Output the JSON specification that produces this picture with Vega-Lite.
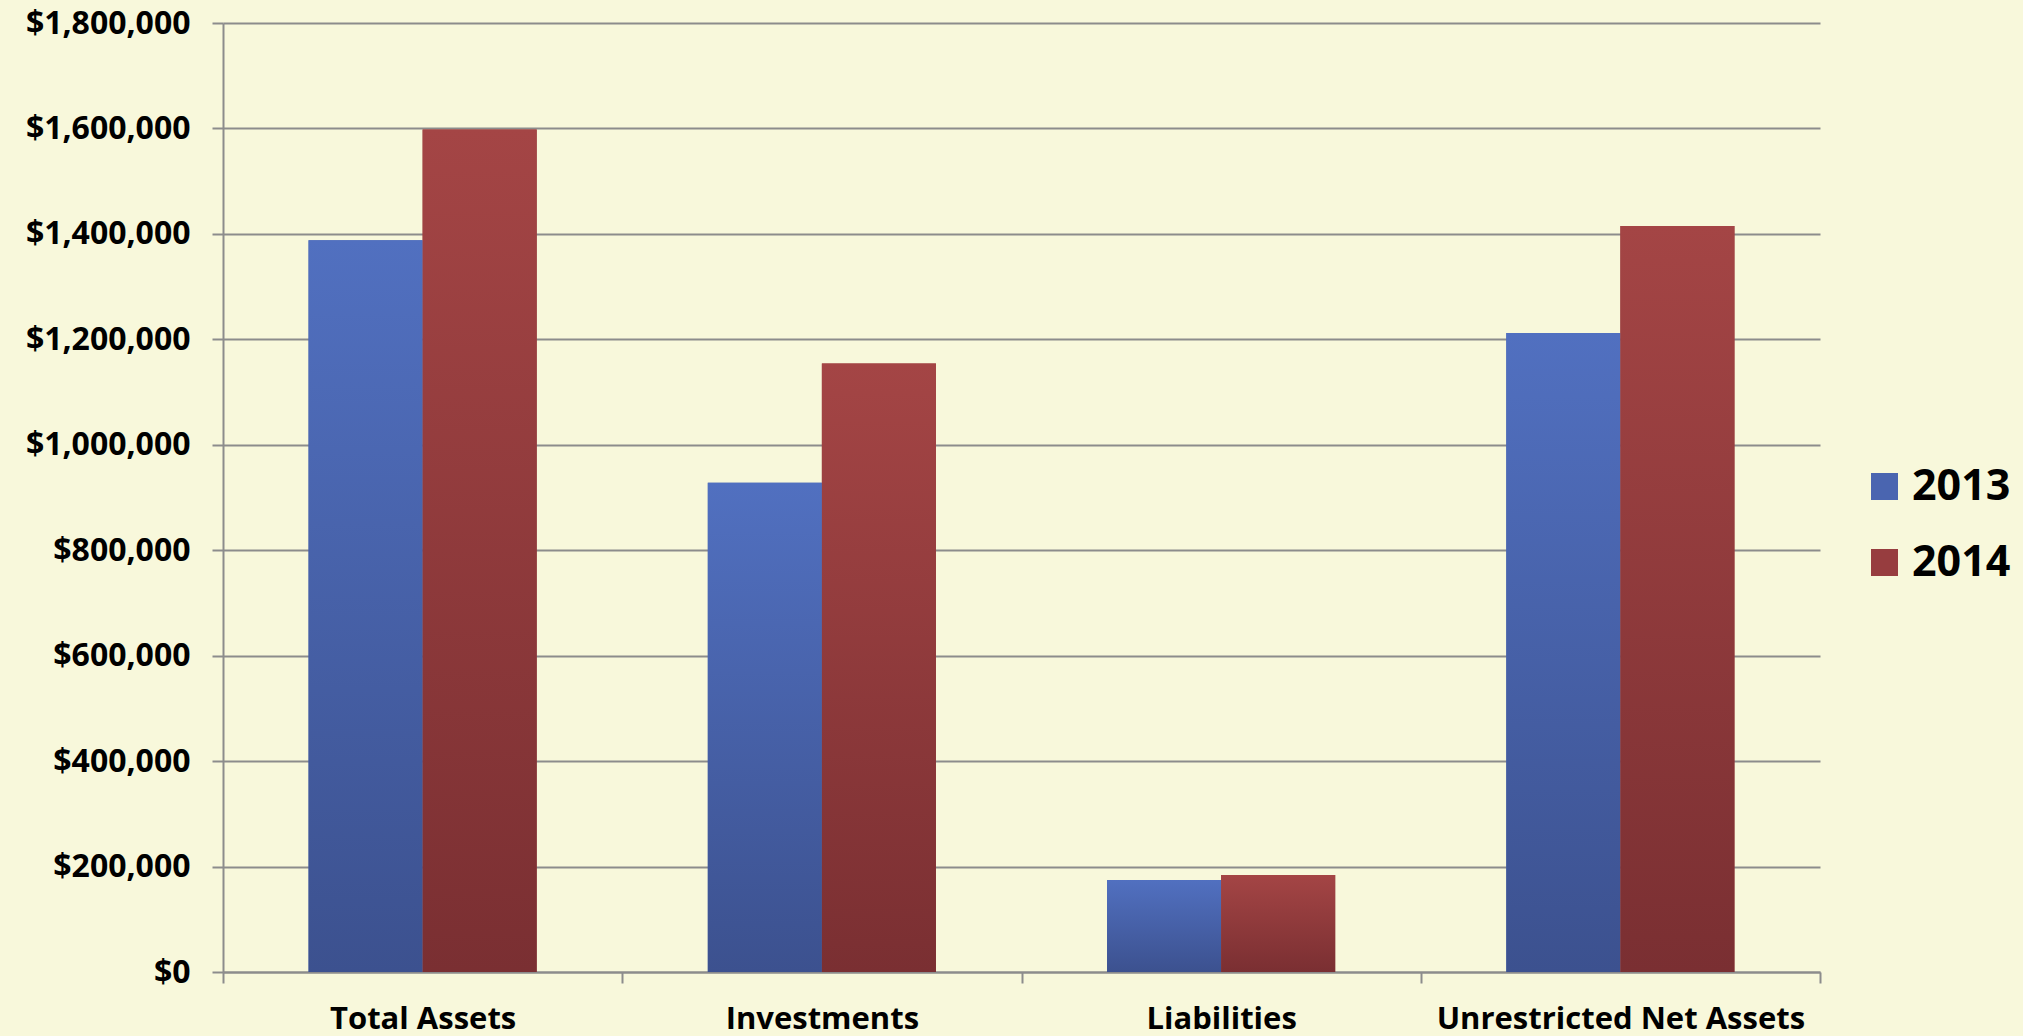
{
  "$schema": "https://vega.github.io/schema/vega-lite/v6.json",
  "width": 1597,
  "height": 949,
  "autosize": {"type": "none"},
  "padding": {"left": 223, "top": 23, "right": 203, "bottom": 64},
  "background": "#F8F8DB",
  "config": {"view": {"stroke": null}, "font": "Open Sans"},
  "data": {
    "values": [
      {"category": "Total Assets", "year": "2013", "value": 1388000},
      {"category": "Total Assets", "year": "2014", "value": 1598000},
      {"category": "Investments", "year": "2013", "value": 928000},
      {"category": "Investments", "year": "2014", "value": 1154000},
      {"category": "Liabilities", "year": "2013", "value": 174500},
      {"category": "Liabilities", "year": "2014", "value": 184000},
      {"category": "Unrestricted Net Assets", "year": "2013", "value": 1212000},
      {"category": "Unrestricted Net Assets", "year": "2014", "value": 1415000}
    ]
  },
  "encoding": {
    "x": {
      "field": "category",
      "type": "nominal",
      "sort": ["Total Assets", "Investments", "Liabilities", "Unrestricted Net Assets"],
      "scale": {"paddingInner": 0, "paddingOuter": 0},
      "axis": {
        "title": null,
        "labelAngle": 0,
        "labelFont": "Open Sans",
        "labelFontWeight": "bold",
        "labelFontSize": 31,
        "labelColor": "#000000",
        "labelPadding": 21,
        "labelLimit": 0,
        "tickBand": "extent",
        "tickColor": "#8C8C8C",
        "tickWidth": 2,
        "tickSize": 11,
        "domainColor": "#8C8C8C",
        "domainWidth": 2,
        "grid": false
      }
    },
    "xOffset": {
      "field": "year",
      "type": "nominal",
      "scale": {"paddingInner": 0, "paddingOuter": 0.75}
    },
    "y": {
      "field": "value",
      "type": "quantitative",
      "scale": {"domain": [0, 1800000], "nice": false},
      "axis": {
        "title": null,
        "values": [0, 200000, 400000, 600000, 800000, 1000000, 1200000, 1400000, 1600000, 1800000],
        "format": "$,d",
        "labelFont": "Open Sans",
        "labelFontWeight": "bold",
        "labelFontSize": 32,
        "labelColor": "#000000",
        "labelPadding": 22,
        "labelLimit": 0,
        "tickColor": "#8C8C8C",
        "tickWidth": 2,
        "tickSize": 11,
        "domainColor": "#8C8C8C",
        "domainWidth": 2,
        "gridColor": "#8C8C8C",
        "gridWidth": 2
      }
    }
  },
  "layer": [
    {
      "mark": {"type": "bar"},
      "encoding": {
        "color": {
          "field": "year",
          "type": "nominal",
          "scale": {"domain": ["2013", "2014"], "range": ["#4A65B0", "#973D3F"]},
          "legend": {
            "title": null,
            "orient": "none",
            "legendX": 1640,
            "legendY": 442,
            "padding": 0,
            "symbolType": "square",
            "symbolSize": 729,
            "symbolStrokeWidth": 0,
            "labelFont": "Open Sans",
            "labelFontWeight": "bold",
            "labelFontSize": 43,
            "labelColor": "#000000",
            "labelOffset": 6,
            "labelLimit": 0,
            "rowPadding": 32
          }
        }
      }
    },
    {
      "mark": {"type": "bar"},
      "encoding": {
        "fill": {
          "condition": {
            "test": "datum.year === '2013'",
            "value": {
              "gradient": "linear",
              "x1": 0, "y1": 0, "x2": 0, "y2": 1,
              "stops": [
                {"offset": 0, "color": "#5170C0"},
                {"offset": 1, "color": "#3C518F"}
              ]
            }
          },
          "value": {
            "gradient": "linear",
            "x1": 0, "y1": 0, "x2": 0, "y2": 1,
            "stops": [
              {"offset": 0, "color": "#A44545"},
              {"offset": 1, "color": "#7A2F32"}
            ]
          }
        }
      }
    }
  ]
}
